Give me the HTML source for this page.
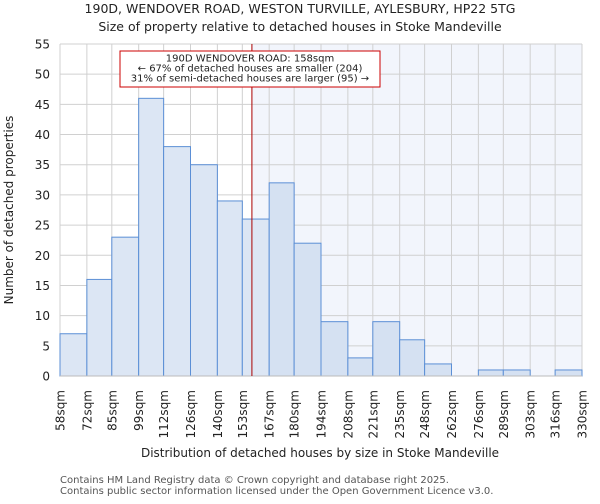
<!DOCTYPE html>
<html><head><meta charset="utf-8"><style>
body{margin:0;background:#fff;font-family:"DejaVu Sans","Liberation Sans",sans-serif}
svg text{font-family:"DejaVu Sans","Liberation Sans",sans-serif}
</style></head><body>
<svg id="c" width="600" height="500" xmlns="http://www.w3.org/2000/svg">
<text x="300" y="13" text-anchor="middle" font-size="12.5" fill="#222">190D, WENDOVER ROAD, WESTON TURVILLE, AYLESBURY, HP22 5TG</text>
<text x="300" y="31" text-anchor="middle" font-size="12.5" fill="#222">Size of property relative to detached houses in Stoke Mandeville</text>
<g id="plot"></g>
<text transform="translate(13,210) rotate(-90)" text-anchor="middle" font-size="12" fill="#222">Number of detached properties</text>
<text x="320" y="457" text-anchor="middle" font-size="12" fill="#222">Distribution of detached houses by size in Stoke Mandeville</text>
<text x="60" y="483" font-size="10" fill="#555">Contains HM Land Registry data © Crown copyright and database right 2025.</text>
<text x="60" y="494" font-size="10" fill="#555">Contains public sector information licensed under the Open Government Licence v3.0.</text>
</svg>
<script>
const binEdges=[58,72,85,99,112,126,140,153,167,180,194,208,221,235,248,262,276,289,303,316,330];
const counts=[7,16,23,46,38,35,29,26,32,22,9,3,9,6,2,0,1,1,0,1];
const yTicks=[0,5,10,15,20,25,30,35,40,45,50,55];
const propertySize=158;
const NS="http://www.w3.org/2000/svg";
const L=60,R=582,T=44,B=376,minX=58,maxX=330,maxY=55;
const xs=v=>L+(v-minX)/(maxX-minX)*(R-L);
const ys=v=>B-v/maxY*(B-T);
const g=document.getElementById('plot');
function mk(t,a){const e=document.createElementNS(NS,t);for(const k in a)e.setAttribute(k,a[k]);g.appendChild(e);return e;}
const px=xs(propertySize);
let e=mk('rect',{x:px,y:T,width:R-px,height:B-T,fill:'#f2f5fc'});


yTicks.forEach(t=>{
 let l=mk('line',{x1:L,x2:R,y1:ys(t),y2:ys(t),stroke:'#d0d0d0','stroke-width':1});
 
 
 let tx=mk('text',{x:L-10,y:ys(t)+4.5,'text-anchor':'end','font-size':'12',fill:'#222'});
 tx.textContent=t;
 
 
});
binEdges.forEach(b=>{
 let l=mk('line',{x1:xs(b),x2:xs(b),y1:T,y2:B,stroke:'#d0d0d0','stroke-width':1});
 
 
 let tx=mk('text',{transform:`translate(${xs(b)+4.5},390) rotate(-90)`,'text-anchor':'end','font-size':'12',fill:'#222'});
 tx.textContent=b+'sqm';
 
 
});
counts.forEach((c,i)=>{
 if(c<=0)return;
 const x0=xs(binEdges[i]),x1=xs(binEdges[i+1]);
 let r=mk('rect',{x:x0,y:ys(c),width:x1-x0,height:B-ys(c),fill:binEdges[i]>=propertySize?'#d5e1f2':'#dce6f4',stroke:'#5b8fd6','stroke-width':1});
 
 
});
let ax=mk('line',{x1:L,x2:R,y1:B,y2:B,stroke:'#bbb'});


let pl=mk('line',{x1:px,x2:px,y1:T,y2:B,stroke:'#aa0000','stroke-width':1});


let box=mk('rect',{x:120,y:51,width:260,height:36,fill:'#fff',stroke:'#cc0000','stroke-width':1});


["190D WENDOVER ROAD: 158sqm","← 67% of detached houses are smaller (204)","31% of semi-detached houses are larger (95) →"].forEach((s,i)=>{
 let t=mk('text',{x:250,y:61.5+i*10,'text-anchor':'middle','font-size':'10',fill:'#222'});
 t.textContent=s;
 
 
});
</script>
</body></html>
